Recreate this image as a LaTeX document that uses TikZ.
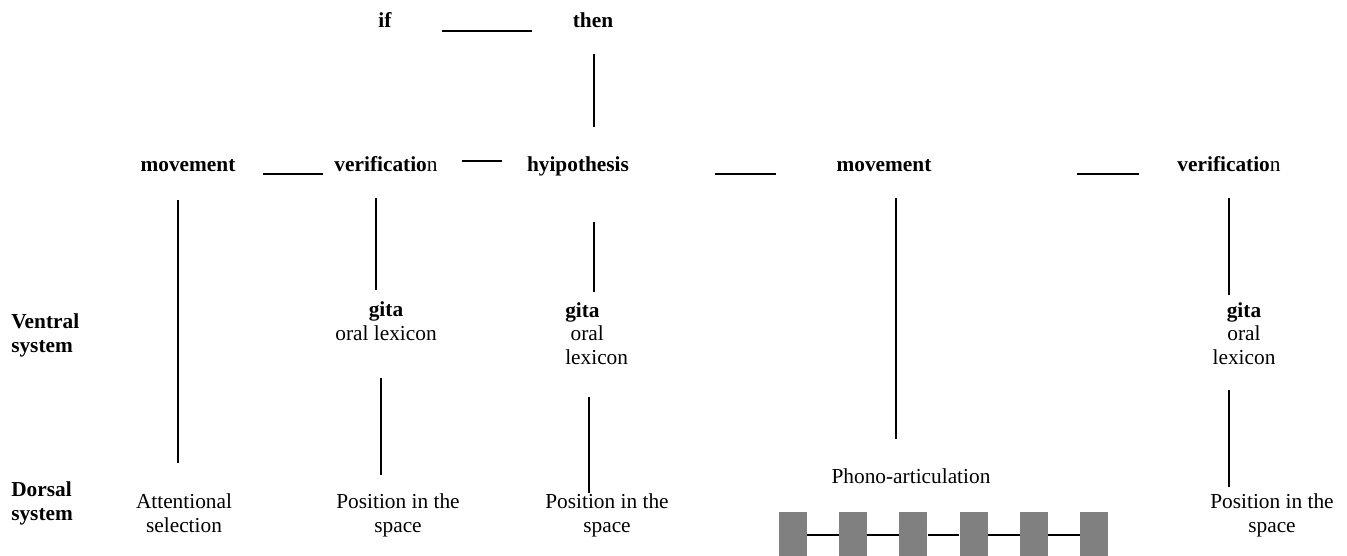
\documentclass[tikz,border=0pt]{standalone}
\usepackage{fontspec}
\setmainfont{Liberation Serif}
\definecolor{boxgray}{HTML}{808080}

\begin{document}
\begin{tikzpicture}[x=0.75pt,y=-0.75pt,
  t/.style={inner sep=0pt,anchor=base,align=center,font=\fontsize{16}{17.5}\selectfont},
  b/.style={t,font=\fontsize{16}{17.5}\selectfont\bfseries},
  lbl/.style={b,align=left,anchor=base west},
  bx/.style={fill=boxgray,inner sep=0pt,minimum width=21pt,minimum height=35pt},
  ln/.style={line width=1.3pt}]
 \useasboundingbox (0,0) rectangle (1347,556);
 % top row
 \node[b] (if) at (385,28) {if};
 \node[b] (th) at (593,28) {then};
 % second row
 \node[b] (mv1) at (188,172) {movement};
 \node[b] (vf1) at (386,172) {verificatio\mdseries n};
 \node[b] (hy) at (578,172) {hyipothesis};
 \node[b] (mv2) at (884,172) {movement};
 \node[b] (vf2) at (1229,172) {verificatio\mdseries n};
 % row labels (base = last line)
 \node[lbl] (ven) at (11,352) {Ventral\\system};
 \node[lbl] (dor) at (11,520) {Dorsal\\system};
 % ventral row
 \node[t] (gl1) at (386,340) {\textbf{gita}\\oral lexicon};
 \node[t,align=left,anchor=base west] (gl2) at (565,364) {\textbf{gita}\\\hspace*{4pt}oral\\lexicon};
 \node[t] (gl3) at (1244,364) {\textbf{gita}\\oral\\lexicon};
 % dorsal row
 \node[t] (att) at (184,532) {Attentional\\selection};
 \node[t] (ps1) at (398,532) {Position in the\\space};
 \node[t] (ps2) at (607,532) {Position in the\\space};
 \node[t] (pho) at (911,483) {Phono-articulation};
 \node[t] (ps3) at (1272,532) {Position in the\\space};
 % line ends
 \coordinate (a1) at (442,31);  \coordinate (a2) at (532,31);
 \coordinate (b1) at (594,54);  \coordinate (b2) at (594,127);
 \coordinate (c1) at (263,174); \coordinate (c2) at (323,174);
 \coordinate (d1) at (462,161); \coordinate (d2) at (502,161);
 \coordinate (e1) at (715,174); \coordinate (e2) at (776,174);
 \coordinate (f1) at (1077,174); \coordinate (f2) at (1139,174);
 \coordinate (g1) at (178,200); \coordinate (g2) at (178,463);
 \coordinate (h1) at (376,198); \coordinate (h2) at (376,290);
 \coordinate (i1) at (381,378); \coordinate (i2) at (381,475);
 \coordinate (j1) at (594,222); \coordinate (j2) at (594,292);
 \coordinate (k1) at (589,397); \coordinate (k2) at (589,493);
 \coordinate (l1) at (896,198); \coordinate (l2) at (896,439);
 \coordinate (m1) at (1229,198); \coordinate (m2) at (1229,295);
 \coordinate (n1) at (1229,390); \coordinate (n2) at (1229,487);
 \foreach \a/\b in {a1/a2,b1/b2,c1/c2,d1/d2,e1/e2,f1/f2,g1/g2,h1/h2,i1/i2,j1/j2,k1/k2,l1/l2,m1/m2,n1/n2}
   \draw[ln] (\a)--(\b);
 % articulator blocks
 \foreach \i in {0,...,5}
   \node[bx] (k\i) at (793+60.2*\i,535) {};
 \foreach \a/\b in {k0/k1,k1/k2,k2/k3,k3/k4,k4/k5}
   \draw[line width=1pt] (\a)--(\b);
\end{tikzpicture}
\end{document}
